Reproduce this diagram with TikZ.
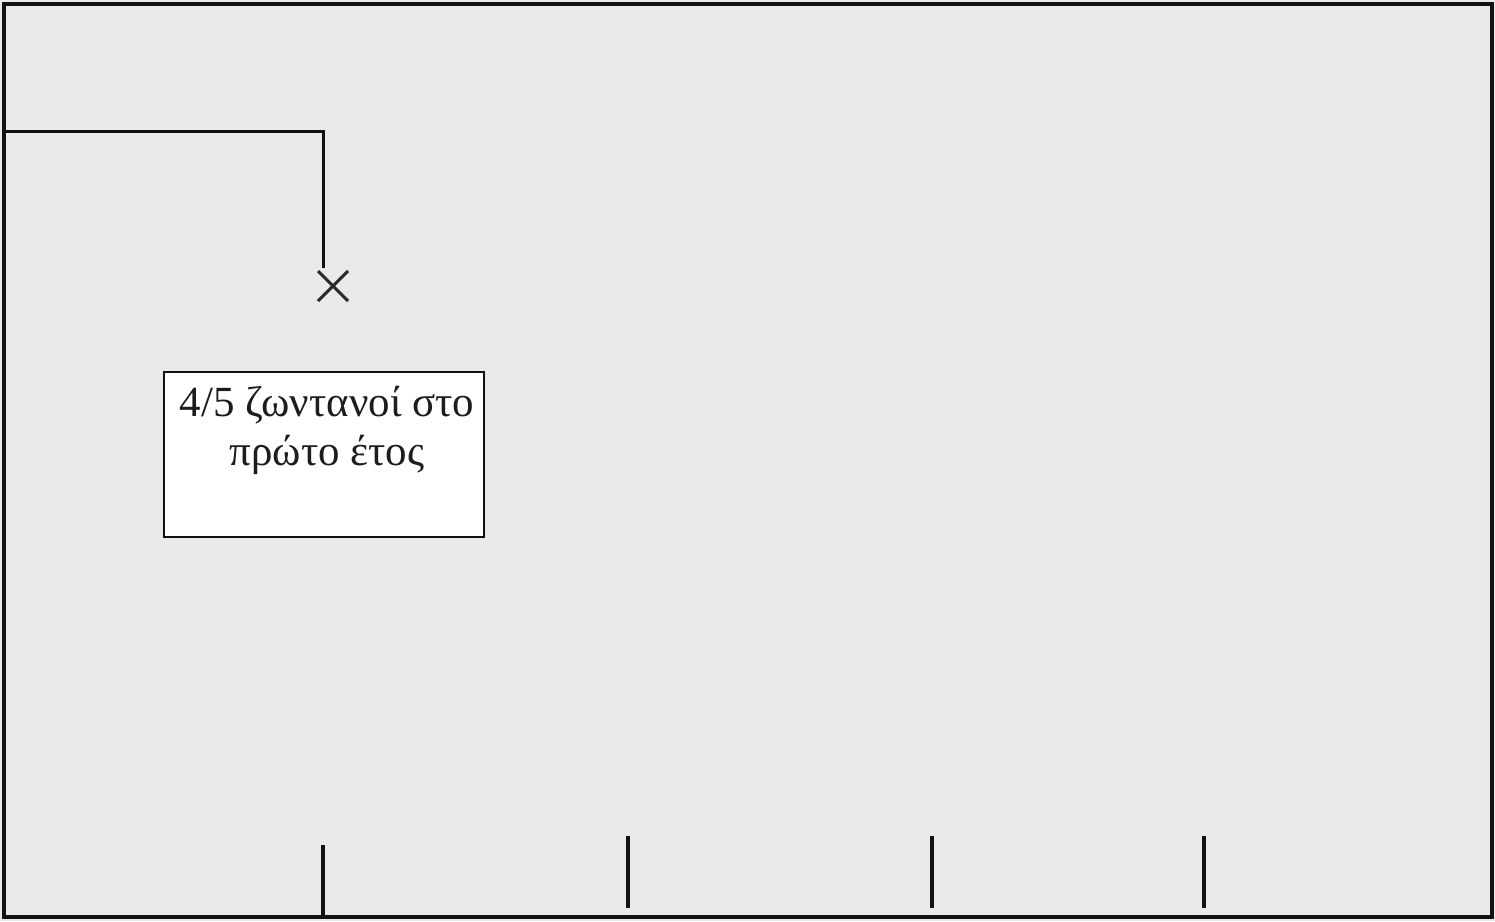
\documentclass[tikz,border=0pt]{standalone}
\usepackage{fontspec}
\setmainfont{Liberation Serif}
\usetikzlibrary{calc}
\definecolor{panel}{HTML}{E9E9E9}
\definecolor{ink}{HTML}{111111}
\begin{document}
\begin{tikzpicture}[x=1pt,y=-1pt,
  frame/.style={draw=ink,line width=4pt},
  wire/.style={draw=ink,line width=3pt},
  tick/.style={draw=ink,line width=3.4pt},
  cross/.style={draw=ink!90,line width=3pt},
  label/.style={draw=ink,line width=1.5pt,fill=white,minimum width=320pt,minimum height=165pt,inner sep=0pt},
  caption/.style={font=\fontsize{43}{49}\selectfont,align=center,inner sep=0pt,text=ink!95}]
\useasboundingbox (0,0) rectangle (1495,921);
% panel background and frame
\fill[panel] (0,0) rectangle (1495,921);
\draw[frame] (4,4) rectangle (1492,917);
% bracket line leading to the mark
\coordinate (start) at (4,131);
\coordinate (corner) at (323,131);
\coordinate (drop) at (323,268);
\draw[wire] (start) -- (corner) -- (drop);
% cross mark
\coordinate (mark) at (333,286);
\draw[cross] ($(mark)+(-15,-15)$) -- ($(mark)+(15,15)$);
\draw[cross] ($(mark)+(-15,15)$) -- ($(mark)+(15,-15)$);
% label box; the anchor sits on the baseline of the last line
\node[label] (box) at (324,454.5) {};
\node[caption,anchor=base] (txt) at (327,465) {4/5 ζωντανοί στο\\πρώτο έτος};
% ticks along the bottom
\coordinate (t1a) at (323,845); \coordinate (t1b) at (323,916);
\coordinate (t2a) at (628,836); \coordinate (t2b) at (628,908);
\coordinate (t3a) at (932,836); \coordinate (t3b) at (932,908);
\coordinate (t4a) at (1204,836); \coordinate (t4b) at (1204,908);
\draw[tick] (t1a) -- (t1b);
\draw[tick] (t2a) -- (t2b);
\draw[tick] (t3a) -- (t3b);
\draw[tick] (t4a) -- (t4b);
\end{tikzpicture}
\end{document}
